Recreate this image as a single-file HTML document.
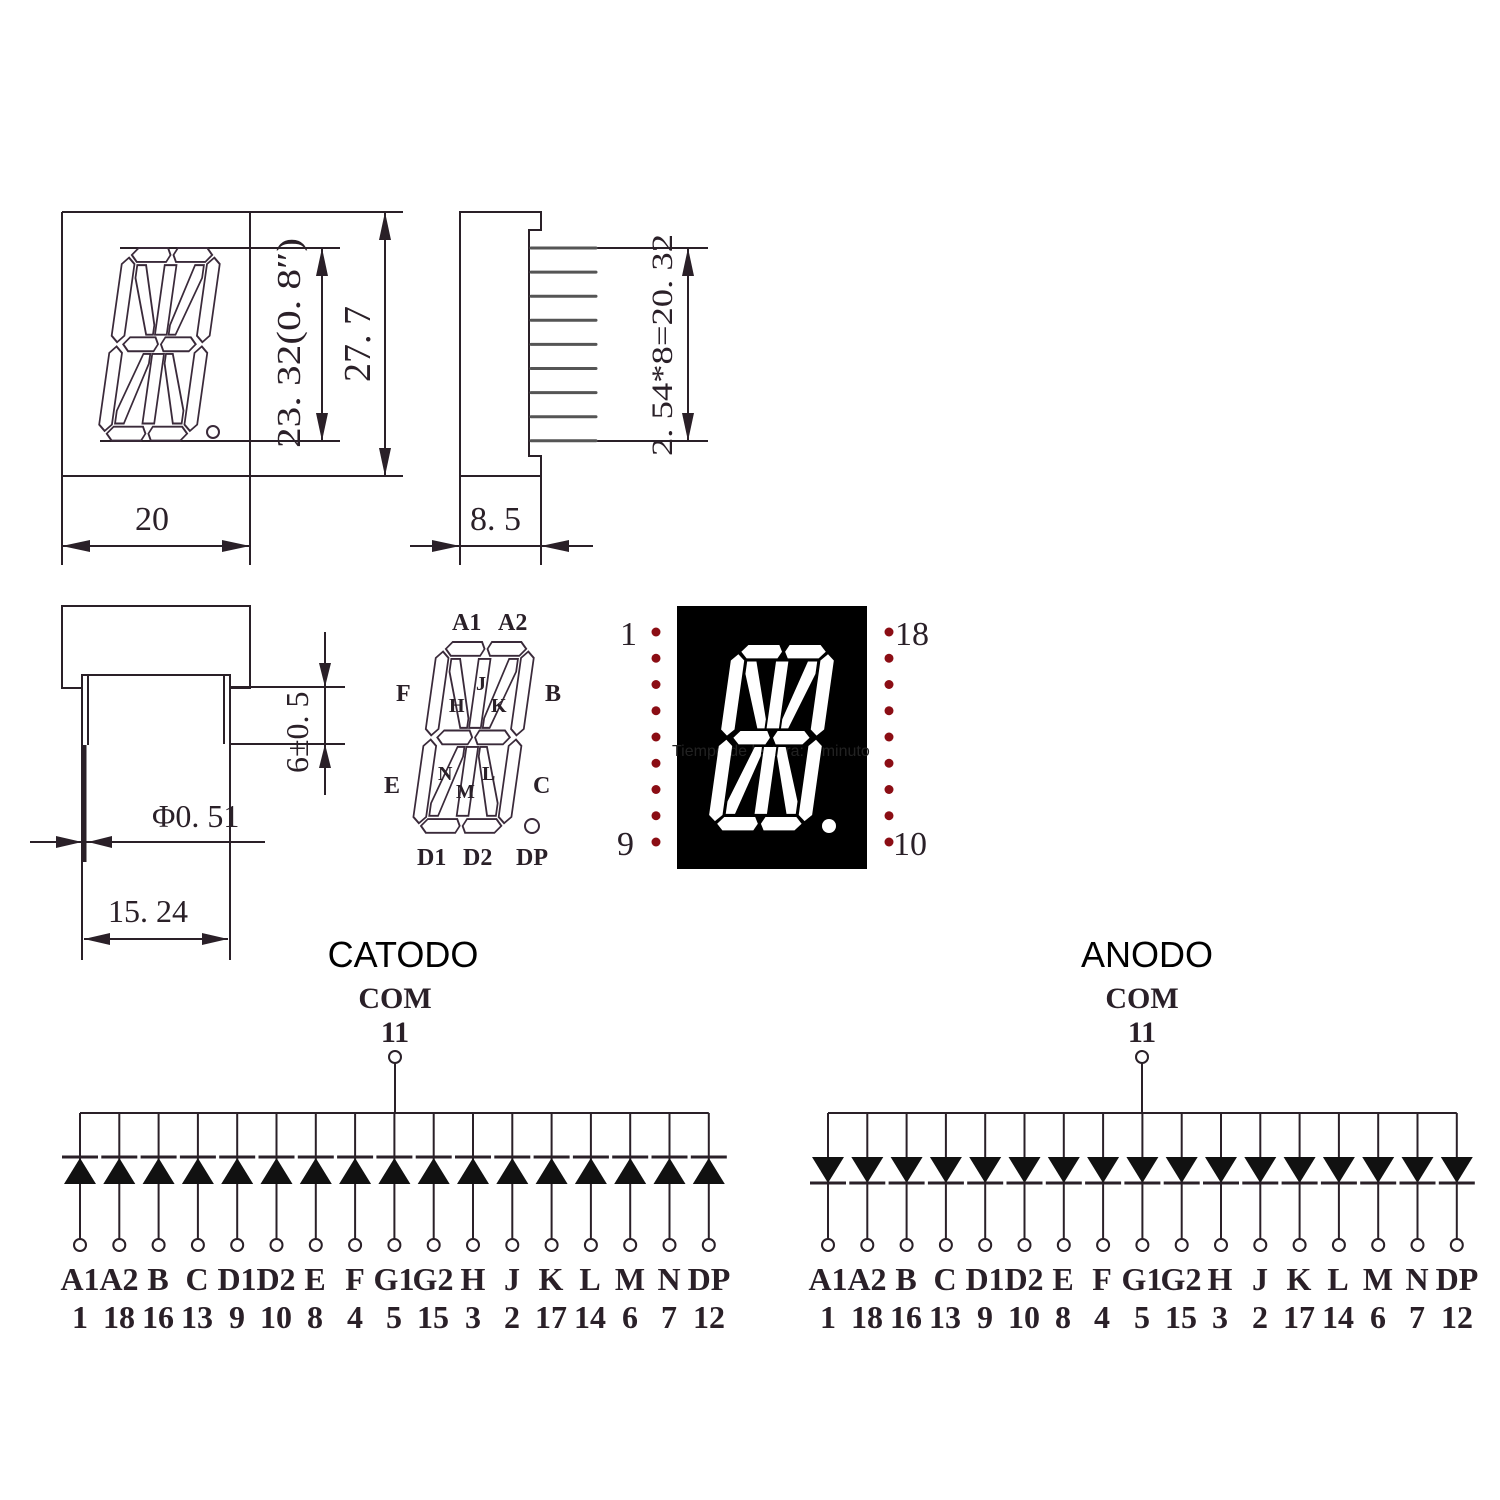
<!DOCTYPE html>
<html><head><meta charset="utf-8"><style>
html,body{margin:0;padding:0;background:#fff}
svg{display:block}
.t{font-family:"Liberation Serif",serif;fill:#2a2028}
</style></head><body>
<svg id="s" width="1500" height="1500" viewBox="0 0 1500 1500" xmlns="http://www.w3.org/2000/svg">
<defs>
<g id="seg">
<polygon points="9,6.5 15,0 45,0 48.5,6.5 45,13 15,13"/>
<polygon points="51.5,6.5 55,0 85,0 91,6.5 85,13 55,13"/>
<polygon points="6.5,9 13,15 13,82 6.5,88 0,82 0,15"/>
<polygon points="93.5,9 100,15 100,82 93.5,88 87,82 87,15"/>
<polygon points="6.5,92 13,98 13,165 6.5,171 0,165 0,98"/>
<polygon points="93.5,92 100,98 100,165 93.5,171 87,165 87,98"/>
<polygon points="9,173.5 15,167 45,167 48.5,173.5 45,180 15,180"/>
<polygon points="51.5,173.5 55,167 85,167 91,173.5 85,180 55,180"/>
<polygon points="13,90 19,83.5 45,83.5 48.5,90 45,96.5 19,96.5"/>
<polygon points="51.5,90 55,83.5 81,83.5 87,90 81,96.5 55,96.5"/>
<polygon points="44,16 56,16 56,81 44,81"/>
<polygon points="44,99 56,99 56,164 44,164"/>
<polygon points="16,16 25,16 42,72 42,81 35,81 16,28"/>
<polygon points="84,16 75,16 58,72 58,81 65,81 84,28"/>
<polygon points="42,99 35,99 16,152 16,164 25,164 42,108"/>
<polygon points="58,99 65,99 84,152 84,164 75,164 58,108"/>
</g>
</defs>
<g stroke="#2a2028" stroke-width="2" fill="none">
<line x1="62" y1="212" x2="403" y2="212"/>
<line x1="62" y1="476" x2="403" y2="476"/>
<line x1="62" y1="212" x2="62" y2="565"/>
<line x1="250" y1="212" x2="250" y2="565"/>
<line x1="120" y1="248" x2="340" y2="248"/>
<line x1="100" y1="441" x2="340" y2="441"/>
<line x1="322" y1="248" x2="322" y2="441"/>
<line x1="385" y1="212" x2="385" y2="476"/>
<line x1="62" y1="546" x2="250" y2="546"/>
<polyline points="460,565 460,212 541,212 541,230 529,230 529,456 541,456 541,565"/>
<line x1="460" y1="476" x2="541" y2="476"/>
<line x1="410" y1="546" x2="593" y2="546"/>
<line x1="597" y1="248" x2="708" y2="248"/>
<line x1="597" y1="441" x2="708" y2="441"/>
<line x1="688" y1="248" x2="688" y2="441"/>
<polyline points="82,688 62,688 62,606 250,606 250,688 230,688"/>
<polyline points="82,960 82,675 230,675 230,960"/>
<line x1="88" y1="675" x2="88" y2="745"/>
<line x1="224" y1="675" x2="224" y2="744"/>
<line x1="230" y1="687" x2="345" y2="687"/>
<line x1="230" y1="744" x2="345" y2="744"/>
<line x1="325" y1="632" x2="325" y2="795"/>
<line x1="30" y1="842" x2="265" y2="842"/>
<line x1="84" y1="939" x2="228" y2="939"/>
</g>
<line x1="84" y1="745" x2="84" y2="862" stroke="#2a2028" stroke-width="5"/>
<g fill="#2a2028" stroke="none">
<polygon points="385,212 379,240 391,240"/><polygon points="385,476 379,448 391,448"/>
<polygon points="322,248 316,276 328,276"/><polygon points="322,441 316,413 328,413"/>
<polygon points="62,546 90,540 90,552"/><polygon points="250,546 222,540 222,552"/>
<polygon points="460,546 432,540 432,552"/><polygon points="541,546 569,540 569,552"/>
<polygon points="688,248 682,276 694,276"/><polygon points="688,441 682,413 694,413"/>
<polygon points="325,687 319,663 331,663"/><polygon points="325,744 319,768 331,768"/>
<polygon points="82,842 56,836 56,848"/><polygon points="88,842 112,836 112,848"/>
<polygon points="84,939 110,933 110,945"/><polygon points="228,939 202,933 202,945"/>
</g>
<g id="pins" stroke="#555" stroke-width="3" stroke-linecap="round"></g>
<use href="#seg" transform="translate(124 248) skewX(-8) scale(0.98 1.07)" fill="#fff" stroke="#3a2a3a" stroke-width="1.8"/>
<circle cx="213" cy="432" r="6" fill="none" stroke="#3a2a3a" stroke-width="2"/>
<use href="#seg" transform="translate(438 642) skewX(-8) scale(0.98 1.06)" fill="#fff" stroke="#3a2a3a" stroke-width="1.8"/>
<circle cx="532" cy="826" r="7" fill="none" stroke="#3a2a3a" stroke-width="2"/>
<rect x="677" y="606" width="190" height="263" fill="#000"/>
<text x="672" y="756" font-family="Liberation Sans,sans-serif" font-size="16" fill="#222">Tiempo de lectura: 1 minuto</text>
<use href="#seg" transform="translate(733 645) skewX(-8) scale(1.03 1.03)" fill="#fff"/>
<circle cx="829" cy="826" r="7" fill="#fff"/>
<g id="dots" fill="#8b0d14"></g>
<g class="t" font-size="34">
<text transform="translate(300 448) rotate(-90)" textLength="210" lengthAdjust="spacingAndGlyphs">23. 32(0. 8″)</text>
<text transform="translate(370 382) rotate(-90)" font-size="38">27. 7</text>
<text x="135" y="530" font-size="34">20</text>
<text x="470" y="530" font-size="34">8. 5</text>
<text transform="translate(672 456) rotate(-90)" font-size="30" textLength="222" lengthAdjust="spacingAndGlyphs">2. 54*8=20. 32</text>
<text transform="translate(308 773) rotate(-90)" font-size="32">6±0. 5</text>
<text x="152" y="827" font-size="32">Φ0. 51</text>
<text x="108" y="922" font-size="32">15. 24</text>
</g>
<g class="t" font-size="24" font-weight="bold">
<text x="452" y="630">A1</text><text x="498" y="630">A2</text>
<text x="396" y="701">F</text><text x="545" y="701">B</text>
<text x="384" y="793">E</text><text x="533" y="793">C</text>
<text x="417" y="865">D1</text><text x="463" y="865">D2</text><text x="516" y="865">DP</text>
<text x="476" y="690" font-size="20">J</text><text x="449" y="712" font-size="20">H</text><text x="491" y="712" font-size="20">K</text>
<text x="438" y="780" font-size="20">N</text><text x="482" y="780" font-size="20">L</text><text x="456" y="798" font-size="20">M</text>
</g>
<g class="t" font-size="34" fill="#222">
<text x="620" y="645">1</text><text x="617" y="855">9</text>
<text x="895" y="645">18</text><text x="893" y="855">10</text>
</g>
<g font-family="Liberation Sans,sans-serif" font-size="36" fill="#000" text-anchor="middle">
<text x="403" y="967">CATODO</text><text x="1147" y="967">ANODO</text>
</g>
<g class="t" font-size="30" text-anchor="middle" font-weight="bold">
<text x="395" y="1008">COM</text><text x="395" y="1042">11</text>
<text x="1142" y="1008">COM</text><text x="1142" y="1042">11</text>
</g>
<g id="diodes"></g>
<g class="t" font-size="32" text-anchor="middle" font-weight="bold">
<text x="80" y="1290">A1</text><text x="119" y="1290">A2</text><text x="158" y="1290">B</text><text x="197" y="1290">C</text><text x="237" y="1290">D1</text><text x="276" y="1290">D2</text><text x="315" y="1290">E</text><text x="355" y="1290">F</text><text x="394" y="1290">G1</text><text x="433" y="1290">G2</text><text x="473" y="1290">H</text><text x="512" y="1290">J</text><text x="551" y="1290">K</text><text x="590" y="1290">L</text><text x="630" y="1290">M</text><text x="669" y="1290">N</text><text x="709" y="1290">DP</text>
<text x="80" y="1328">1</text><text x="119" y="1328">18</text><text x="158" y="1328">16</text><text x="197" y="1328">13</text><text x="237" y="1328">9</text><text x="276" y="1328">10</text><text x="315" y="1328">8</text><text x="355" y="1328">4</text><text x="394" y="1328">5</text><text x="433" y="1328">15</text><text x="473" y="1328">3</text><text x="512" y="1328">2</text><text x="551" y="1328">17</text><text x="590" y="1328">14</text><text x="630" y="1328">6</text><text x="669" y="1328">7</text><text x="709" y="1328">12</text>
<text x="828" y="1290">A1</text><text x="867" y="1290">A2</text><text x="906" y="1290">B</text><text x="945" y="1290">C</text><text x="985" y="1290">D1</text><text x="1024" y="1290">D2</text><text x="1063" y="1290">E</text><text x="1102" y="1290">F</text><text x="1142" y="1290">G1</text><text x="1181" y="1290">G2</text><text x="1220" y="1290">H</text><text x="1260" y="1290">J</text><text x="1299" y="1290">K</text><text x="1338" y="1290">L</text><text x="1378" y="1290">M</text><text x="1417" y="1290">N</text><text x="1457" y="1290">DP</text>
<text x="828" y="1328">1</text><text x="867" y="1328">18</text><text x="906" y="1328">16</text><text x="945" y="1328">13</text><text x="985" y="1328">9</text><text x="1024" y="1328">10</text><text x="1063" y="1328">8</text><text x="1102" y="1328">4</text><text x="1142" y="1328">5</text><text x="1181" y="1328">15</text><text x="1220" y="1328">3</text><text x="1260" y="1328">2</text><text x="1299" y="1328">17</text><text x="1338" y="1328">14</text><text x="1378" y="1328">6</text><text x="1417" y="1328">7</text><text x="1457" y="1328">12</text>
</g>
</svg>
<script>
(function(){
var NS="http://www.w3.org/2000/svg";
function el(p,t,a){var e=document.createElementNS(NS,t);for(var k in a)e.setAttribute(k,a[k]);p.appendChild(e);return e;}
var pins=document.getElementById('pins');
for(var i=0;i<9;i++){var y=248+i*24.1;el(pins,'line',{x1:531,y1:y,x2:596,y2:y});}
var dots=document.getElementById('dots');
for(var i=0;i<9;i++){var y=632+i*26.25;el(dots,'circle',{cx:656,cy:y,r:4.5});el(dots,'circle',{cx:889,cy:y,r:4.5});}
var d=document.getElementById('diodes');
function row(x0,cx,anode){
  var st={stroke:'#2a2028','stroke-width':2,fill:'none'};
  var xs=[];for(var i=0;i<17;i++)xs.push(x0+i*39.3);
  el(d,'line',Object.assign({x1:xs[0],y1:1113,x2:xs[16],y2:1113},st));
  el(d,'line',Object.assign({x1:cx,y1:1063,x2:cx,y2:1113},st));
  el(d,'circle',Object.assign({cx:cx,cy:1057,r:6},st));
  xs.forEach(function(x){
    el(d,'line',Object.assign({x1:x,y1:1113,x2:x,y2:1239},st));
    el(d,'circle',Object.assign({cx:x,cy:1245,r:6},st));
    if(!anode){
      el(d,'polygon',{points:(x-16)+',1184 '+(x+16)+',1184 '+x+',1158',fill:'#111'});
      el(d,'line',{x1:x-18,y1:1157,x2:x+18,y2:1157,stroke:'#2a2028','stroke-width':3});
    }else{
      el(d,'polygon',{points:(x-16)+',1157 '+(x+16)+',1157 '+x+',1183',fill:'#111'});
      el(d,'line',{x1:x-18,y1:1183,x2:x+18,y2:1183,stroke:'#2a2028','stroke-width':3});
    }
  });
}
row(80,395,false);row(828,1142,true);
})();
</script>
</body></html>
